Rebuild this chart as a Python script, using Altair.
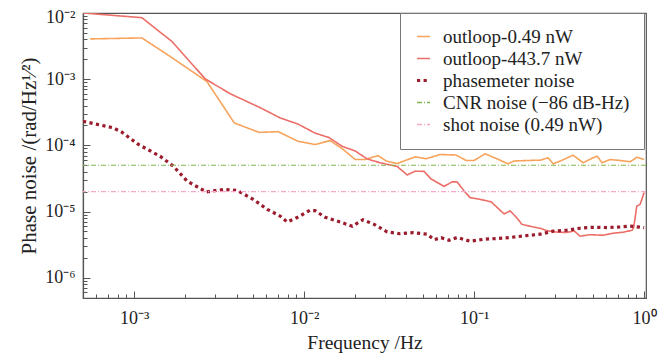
import altair as alt
import pandas as pd

# ---------------- data ----------------
SERIES = ["outloop-0.49 nW", "outloop-443.7 nW", "phasemeter noise",
          "CNR noise (\u221286 dB-Hz)", "shot noise (0.49 nW)"]

orange_freq = [5.51e-4, 1.11e-3, 1.63e-3, 2.68e-3, 3.88e-3, 5.43e-3, 7.03e-3, 9.22e-3, 1.16e-2, 1.42e-2,
               1.67e-2, 2.0e-2, 2.28e-2, 2.72e-2, 3.04e-2, 3.52e-2, 4.5e-2, 5.22e-2, 6.31e-2, 7.83e-2,
               8.97e-2, 0.1, 0.116, 0.137, 0.158, 0.172, 0.205, 0.245, 0.272, 0.292,
               0.33, 0.382, 0.438, 0.501, 0.529, 0.566, 0.631, 0.722, 0.828, 0.909, 1.0]
orange_val = [4.06e-3, 4.2e-3, 2.2e-3, 9.2e-4, 2.18e-4, 1.57e-4, 1.61e-4, 1.15e-4, 1.03e-4, 1.18e-4,
              8.95e-5, 6.1e-5, 6.1e-5, 7.0e-5, 5.8e-5, 5.3e-5, 6.7e-5, 6.27e-5, 7.27e-5, 7.14e-5,
              5.9e-5, 5.9e-5, 7.45e-5, 6.22e-5, 5.26e-5, 5.8e-5, 5.9e-5, 5.97e-5, 6.49e-5, 5.26e-5,
              5.97e-5, 7.1e-5, 5.46e-5, 6.49e-5, 6.85e-5, 5.46e-5, 6.1e-5, 5.9e-5, 5.65e-5, 6.62e-5, 6.1e-5]

red_freq = [5.01e-4, 1.11e-3, 1.67e-3, 2.62e-3, 3.67e-3, 5.51e-3, 7.22e-3, 9.22e-3, 1.16e-2, 1.4e-2,
            1.67e-2, 2.0e-2, 2.35e-2, 2.8e-2, 3.52e-2, 4.04e-2, 4.5e-2, 5.08e-2, 5.58e-2, 6.66e-2,
            7.42e-2, 7.94e-2, 8.73e-2, 9.47e-2, 0.108, 0.126, 0.15, 0.163, 0.177, 0.191,
            0.219, 0.248, 0.269, 0.312, 0.352, 0.388, 0.42, 0.481, 0.574, 0.657,
            0.752, 0.85, 0.868, 0.906, 0.947, 1.0]
red_val = [1.0e-2, 8.5e-3, 3.7e-3, 1.01e-3, 6.03e-4, 3.71e-4, 2.6e-4, 2.09e-4, 1.53e-4, 1.31e-4,
           9.7e-5, 8.2e-5, 6.22e-5, 5.45e-5, 4.8e-5, 3.57e-5, 4.07e-5, 4.04e-5, 3.1e-5, 2.4e-5,
           2.8e-5, 2.8e-5, 2.04e-5, 1.62e-5, 1.53e-5, 1.4e-5, 9.2e-6, 1.02e-5, 8.2e-6, 6.4e-6,
           5.9e-6, 5.52e-6, 5.12e-6, 4.86e-6, 4.83e-6, 5.08e-6, 4.24e-6, 4.46e-6, 4.38e-6, 4.7e-6,
           4.86e-6, 5.21e-6, 5.69e-6, 1.21e-5, 1.28e-5, 1.93e-5]

phase_freq = [5.0e-4, 7.52e-4, 8.5e-4, 1.06e-3, 1.42e-3, 1.7e-3, 2.05e-3, 2.65e-3, 3.38e-3, 4.04e-3,
              5.01e-3, 6.06e-3, 7.22e-3, 7.94e-3, 9.1e-3, 1.08e-2, 1.16e-2, 1.33e-2, 1.63e-2, 1.92e-2,
              2.22e-2, 2.58e-2, 3.08e-2, 3.67e-2, 4.38e-2, 5.29e-2, 5.82e-2, 6.4e-2, 7.13e-2, 7.94e-2,
              9.47e-2, 0.115, 0.137, 0.163, 0.197, 0.245, 0.292, 0.352, 0.42, 0.501,
              0.606, 0.722, 0.828, 1.0]
phase_val = [2.31e-4, 1.84e-4, 1.57e-4, 1.03e-4, 6.85e-5, 4.84e-5, 2.88e-5, 1.98e-5, 2.16e-5, 2.08e-5,
             1.53e-5, 1.08e-5, 8.55e-6, 6.95e-6, 8.1e-6, 1.04e-5, 1.03e-5, 8.18e-6, 6.95e-6, 5.98e-6,
             7.5e-6, 6.4e-6, 4.91e-6, 4.61e-6, 4.78e-6, 4.54e-6, 3.75e-6, 4.02e-6, 3.68e-6, 4.05e-6,
             3.56e-6, 3.81e-6, 3.91e-6, 4.05e-6, 4.28e-6, 4.54e-6, 5.04e-6, 5.21e-6, 5.59e-6, 5.78e-6,
             5.72e-6, 5.84e-6, 6.02e-6, 5.72e-6]

cnr_level = 5.0e-5
shot_level = 2.0e-5

x_major = [1e-3, 1e-2, 1e-1, 1.0]
x_minor = [6e-4, 7e-4, 8e-4, 9e-4] + [m * 10.0 ** e for e in (-3, -2, -1) for m in range(2, 10)]
y_major = [1e-6, 1e-5, 1e-4, 1e-3, 1e-2]
y_minor = [6e-7, 7e-7, 8e-7, 9e-7] + [m * 10.0 ** e for e in (-6, -5, -4, -3) for m in range(2, 10)]

# ---------------- styles ----------------
COLORS = ["#f7a35c", "#ec6e68", "#9b1c2c", "#82b54e", "#f4a9cb"]
DASHES = [[1, 0], [1, 0], [3.2, 3.4], [5, 2, 1, 2], [5, 2, 1, 2]]
FONT = "Liberation Serif"
AX = "#555555"
TXT = "#222222"

solid_rows = []
for name, fs, vs in [(SERIES[0], orange_freq, orange_val), (SERIES[1], red_freq, red_val)]:
    solid_rows += [{"series": name, "freq": f, "value": v} for f, v in zip(fs, vs)]
solid_df = pd.DataFrame(solid_rows)
phase_df = pd.DataFrame({"series": SERIES[2], "freq": phase_freq, "value": phase_val})
levels_df = pd.DataFrame({"series": SERIES[3:], "value": [cnr_level, shot_level]})

LABEL_EXPR = ("'10' + (datum.value < 0.5 ? '\u207b' : '') + "
              "['\u2070','\u00b9','\u00b2','\u00b3','\u2074','\u2075','\u2076','\u2077']"
              "[abs(round(log(datum.value)/LN10))]")

xscale = alt.Scale(type="log", domain=[5e-4, 1.026], nice=False)
yscale = alt.Scale(type="log", domain=[4.93e-7, 1.0e-2], nice=False)

legend = alt.Legend(title=None, orient="none", legendX=317, legendY=0,
                    symbolType="stroke", symbolSize=170,
                    symbolStrokeWidth={"expr": "datum.value == 'phasemeter noise' ? 3.2 : 1.6"},
                    labelFont=FONT, labelFontSize=19, labelColor=TXT, labelLimit=400,
                    labelOffset=10, strokeColor="#777777", fillColor="white",
                    padding=14, rowPadding=2)

color = alt.Color("series:N", scale=alt.Scale(domain=SERIES, range=COLORS), legend=legend)
dash = alt.StrokeDash("series:N", scale=alt.Scale(domain=SERIES, range=DASHES), legend=legend)

main_x_axis = alt.Axis(orient="bottom", values=x_major, labelExpr=LABEL_EXPR, ticks=False,
                       domainColor=AX, domainWidth=1.2, grid=False,
                       labelFont=FONT, labelFontSize=18, labelColor=TXT, labelPadding=11,
                       title="Frequency /Hz", titleFont=FONT, titleFontSize=19.5,
                       titleFontWeight="normal", titleColor=TXT, titlePadding=6)
main_y_axis = alt.Axis(orient="left", values=y_major, labelExpr=LABEL_EXPR, ticks=False,
                       labelOffset=alt.condition("datum.value > 0.005", alt.value(4), alt.value(0)),
                       domainColor=AX, domainWidth=1.2, grid=False,
                       labelFont=FONT, labelFontSize=18, labelColor=TXT, labelPadding=8,
                       title="Phase noise /(rad/Hz\u00b9\u2044\u00b2)", titleFont=FONT, titleFontSize=21,
                       titleFontWeight="normal", titleColor=TXT, titlePadding=5)

solid = alt.Chart(solid_df).mark_line(strokeWidth=1.6, clip=True).encode(
    x=alt.X("freq:Q", scale=xscale, axis=main_x_axis),
    y=alt.Y("value:Q", scale=yscale, axis=main_y_axis),
    color=color, strokeDash=dash,
)

phase = alt.Chart(phase_df).mark_line(strokeWidth=3.2, strokeCap="butt", clip=True).encode(
    x=alt.X("freq:Q", scale=xscale, axis=None),
    y=alt.Y("value:Q", scale=yscale, axis=None),
    color=color, strokeDash=dash,
)

levels = alt.Chart(levels_df).mark_rule(strokeWidth=1.2).encode(
    y=alt.Y("value:Q", scale=yscale, axis=None),
    color=color, strokeDash=dash,
)


def tick_layer(xvals, yvals, size):
    return alt.Chart(solid_df).mark_point(opacity=0).encode(
        x=alt.X("freq:Q", scale=xscale,
                axis=alt.Axis(orient="bottom", values=xvals, labels=False, domain=False,
                              tickSize=size, offset=-size, tickColor=AX, tickWidth=1,
                              grid=False, title=None)),
        y=alt.Y("value:Q", scale=yscale,
                axis=alt.Axis(orient="left", values=yvals, labels=False, domain=False,
                              tickSize=size, offset=-size, tickColor=AX, tickWidth=1,
                              grid=False, title=None)),
    )


chart = alt.layer(
    solid, phase, levels, tick_layer(x_minor, y_minor, 4), tick_layer(x_major, y_major, 7)
).resolve_axis(
    x="independent", y="independent"
).properties(
    width=563, height=285,
    autosize=alt.AutoSizeParams(type="none"),
    padding={"left": 75, "top": 5, "right": 16, "bottom": 60},
).configure_view(stroke=AX, strokeWidth=1.2)

chart.save("out.html", embed_options={"renderer": "svg", "actions": False})
